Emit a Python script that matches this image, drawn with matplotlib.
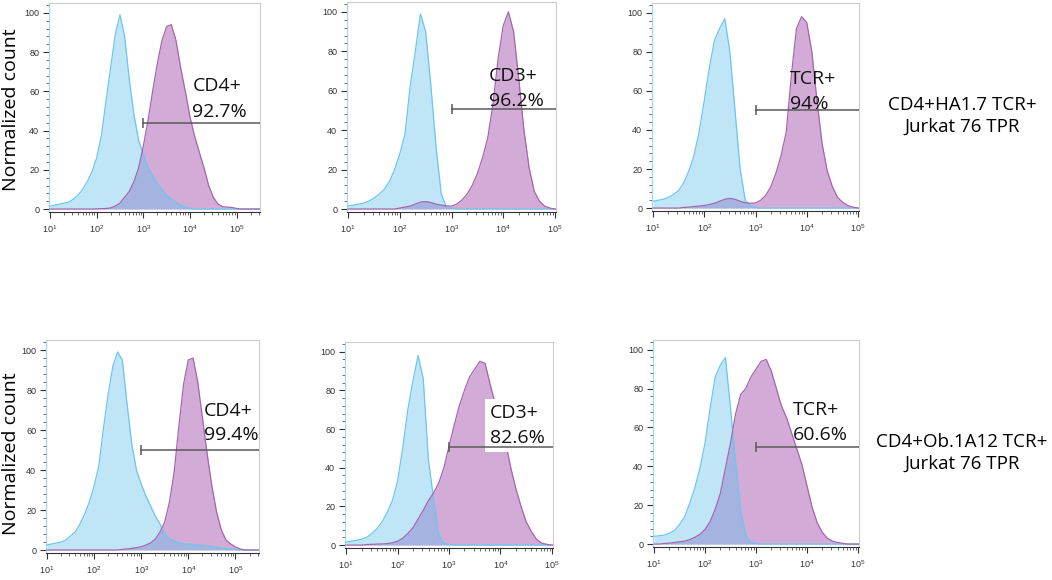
import numpy as np
import matplotlib
matplotlib.use("Agg")
import matplotlib.pyplot as plt
from matplotlib.ticker import AutoMinorLocator, LogLocator, NullFormatter

plt.rcParams['font.family'] = ['Open Sans', 'DejaVu Sans']

# log10 fluorescence bins, 0.1 decade wide
log_bins = np.round(np.arange(1.0, 5.51, 0.1), 1)

def pad(vals):
    # trailing bins with no events
    return vals + [0] * (len(log_bins) - len(vals))

def start(first_bin, vals):
    lead = int(round((first_bin - 1.0) / 0.1))
    return pad([0] * lead + vals)

# row 1: CD4+HA1.7 TCR+ Jurkat 76 TPR
iso_cd4_1 = pad([1.5, 2, 2.5, 3, 3.5, 5, 7, 10, 14, 19, 26, 37, 55, 72, 89, 99, 88, 66, 48, 35,
                 28, 21, 17, 13, 10, 7, 5, 3.5, 2, 1, 0.5])
cd4_1 = start(2.0, [0.1, 0.2, 0.3, 0.6, 1.5, 3, 6, 9, 14, 21, 32, 45, 60, 74, 86, 93, 94, 86, 72, 60,
                    47, 37, 29, 21, 12, 6, 2.5, 1.2, 1, 0.8, 0.3])
iso_cd3_1 = pad([1.5, 2, 2.5, 3, 4, 5.5, 7.5, 10, 14, 20, 28, 38, 62, 80, 99, 90, 63, 32, 8, 1, 0.5])
cd3_1 = start(2.0, [0.5, 1, 1.5, 2.5, 3.5, 3.8, 3.3, 2.5, 2, 1.6, 1.5, 2.5, 4.5, 7.5, 12, 18, 26, 36, 53, 76,
                    93, 100, 90, 66, 40, 21, 9, 4, 1.5, 0.5])
iso_tcr_1 = pad([3.5, 4, 4.5, 5.5, 7, 9, 13, 19, 27, 39, 55, 72, 86, 92, 97, 80, 50, 20, 4, 1, 0.3])
tcr_1 = start(1.6, [0.3, 0.5, 0.8, 1, 1.3, 1.8, 2.5, 3.5, 4.5, 5, 4.5, 3.5, 2.7, 2.5, 2.6, 4, 6.5, 11, 18, 27,
                    39, 68, 92, 98, 95, 80, 55, 33, 19, 11, 5.5, 3, 1.3, 0.5])

# row 2: CD4+Ob.1A12 TCR+ Jurkat 76 TPR
iso_cd4_2 = pad([2.5, 3, 3.5, 4, 5, 7, 9, 13, 18, 24, 32, 42, 61, 78, 92, 99, 95, 73, 53, 40,
                 33, 27, 22, 17, 13, 8, 5.5, 4.5, 3.5, 3, 3, 2.8, 2.5, 2.3, 2, 1.6, 1.3, 1, 0.7, 0.5, 0.3])
cd4_2 = start(2.6, [0.3, 0.5, 0.8, 1.2, 1.6, 2.5, 3.5, 5.5, 9, 14, 24, 39, 62, 83, 95, 96, 84, 66, 48, 32,
                    19, 10, 5, 3, 1.5, 0.5])
iso_cd3_2 = pad([1.5, 2, 2.5, 3, 4, 6, 8.5, 12, 17, 23, 33, 50, 70, 85, 98, 86, 44, 24, 5, 1, 0.3])
cd3_2 = start(1.4, [0.3, 0.4, 0.5, 0.6, 0.8, 1.2, 2, 3.5, 6, 9, 13.5, 18, 23, 27, 32, 40, 51, 62, 72, 80,
                    87, 91, 95, 94, 83, 73, 64, 53, 40, 29, 20, 12, 7, 3, 1, 0.4])
iso_tcr_2 = pad([4, 4.3, 4.6, 5.5, 7, 10, 14, 21, 29, 39, 52, 70, 86, 92, 96, 70, 42, 17, 4, 0.8, 0.3])
tcr_2 = start(1.2, [0.3, 0.5, 0.8, 1.2, 1.5, 2.3, 3.5, 5, 7.5, 11.5, 18, 26, 39, 52, 67, 77, 80, 86, 90, 94,
                    95, 89, 80, 71, 65, 57, 49, 41, 30, 19, 11, 6, 3, 1.5, 0.8, 0.4])

markers = ['CD4+', 'CD3+', 'TCR+']
pct_row1 = ['92.7%', '96.2%', '94%']
pct_row2 = ['99.4%', '82.6%', '60.6%']
gate_row1 = [44, 50.5, 50]
gate_row2 = [50.2, 50.7, 50]
row_label1 = ['CD4+HA1.7 TCR+', 'Jurkat 76 TPR']
row_label2 = ['CD4+Ob.1A12 TCR+', 'Jurkat 76 TPR']

iso = [[iso_cd4_1, iso_cd3_1, iso_tcr_1], [iso_cd4_2, iso_cd3_2, iso_tcr_2]]
stain = [[cd4_1, cd3_1, tcr_1], [cd4_2, cd3_2, tcr_2]]
pcts = [pct_row1, pct_row2]
gates = [gate_row1, gate_row2]
row_labels = [row_label1, row_label2]
# label position: log x of left edge, baselines of the two lines
text_pos = [[(4.05, 60, 47), (3.72, 65, 52.5), (3.68, 63.5, 50.5)],
            [(4.33, 67, 55), (3.8, 65.5, 53), (3.72, 66.5, 53.5)]]

W, H = 1052, 580
boxes = [[(49, 3, 260, 212), (347, 2, 556, 212), (652, 3, 859, 211)],
         [(46, 340, 259, 553), (345, 342, 553, 548), (653, 340, 859, 547)]]
row_baselines = [(110, 132), (447, 469)]
ylabel_centers = [110, 454]

BLUE_FILL = '#61c0ed'
BLUE_EDGE = '#6cc6ee'
PURPLE_FILL = '#d2abd6'
PURPLE_EDGE = '#a565ad'

fig = plt.figure(figsize=(W / 100, H / 100), dpi=100)
xs = 10 ** log_bins

for r in range(2):
    for c in range(3):
        x0, y0, x1, y1 = boxes[r][c]
        ax = fig.add_axes([x0 / W, 1 - y1 / H, (x1 - x0) / W, (y1 - y0) / H])
        ax.set_xscale('log')
        xmax = 10 ** 5.5 if c == 0 else 10 ** 5.02
        ax.set_xlim(10 ** 0.98, xmax)
        ax.set_ylim(-1.5, 105)

        ax.fill_between(xs, 0, stain[r][c], color=PURPLE_FILL, lw=0, zorder=1)
        ax.fill_between(xs, 0, iso[r][c], color=BLUE_FILL, alpha=0.4, lw=0, zorder=2)
        ax.plot(xs, iso[r][c], color=BLUE_EDGE, lw=0.9, zorder=3)
        ax.plot(xs, stain[r][c], color=PURPLE_EDGE, lw=0.9, zorder=4)

        g = gates[r][c]
        ax.plot([1e3, xmax], [g, g], color='#5a5a5a', lw=1.1, zorder=8)
        ax.plot([1e3], [g], marker='|', ms=7, mew=1.1, color='#5a5a5a', zorder=8)

        tx, b1, b2 = text_pos[r][c]
        bbox = dict(facecolor='white', edgecolor='none', pad=4) if (r, c) == (1, 1) else None
        ax.text(10 ** tx, b1, markers[c], fontsize=14, va='baseline', ha='left',
                color='#111111', zorder=6, bbox=bbox)
        ax.text(10 ** tx, b2, pcts[r][c], fontsize=14, va='baseline', ha='left',
                color='#111111', zorder=7, bbox=bbox)

        ax.set_yticks([0, 20, 40, 60, 80, 100])
        ax.yaxis.set_minor_locator(AutoMinorLocator(5))
        ax.xaxis.set_major_locator(LogLocator(base=10, numticks=10))
        ax.xaxis.set_minor_locator(LogLocator(base=10, subs=np.arange(2, 10), numticks=20))
        ax.xaxis.set_minor_formatter(NullFormatter())
        ax.tick_params(axis='both', which='major', labelsize=6.5, colors='#333333', length=4, width=0.8)
        ax.tick_params(axis='both', which='minor', length=2, width=0.6, colors='#555555')
        ax.tick_params(axis='x', pad=4)
        ax.tick_params(axis='y', pad=3)
        for lab in ax.get_xticklabels() + ax.get_yticklabels():
            lab.set_family('Liberation Sans')

        ax.spines['top'].set_color('#cccccc')
        ax.spines['right'].set_color('#cccccc')
        ax.spines['left'].set_color('#9fd8f2')
        ax.spines['bottom'].set_color('#333333')
        for s in ax.spines.values():
            s.set_linewidth(0.8)

    fig.text(11 / W, 1 - ylabel_centers[r] / H, 'Normalized count', fontsize=14,
             rotation=90, ha='center', va='center')
    for line, base in zip(row_labels[r], row_baselines[r]):
        fig.text(962 / W, 1 - base / H, line, fontsize=13.5, ha='center', va='baseline')

fig.savefig('out.png', dpi=100)
